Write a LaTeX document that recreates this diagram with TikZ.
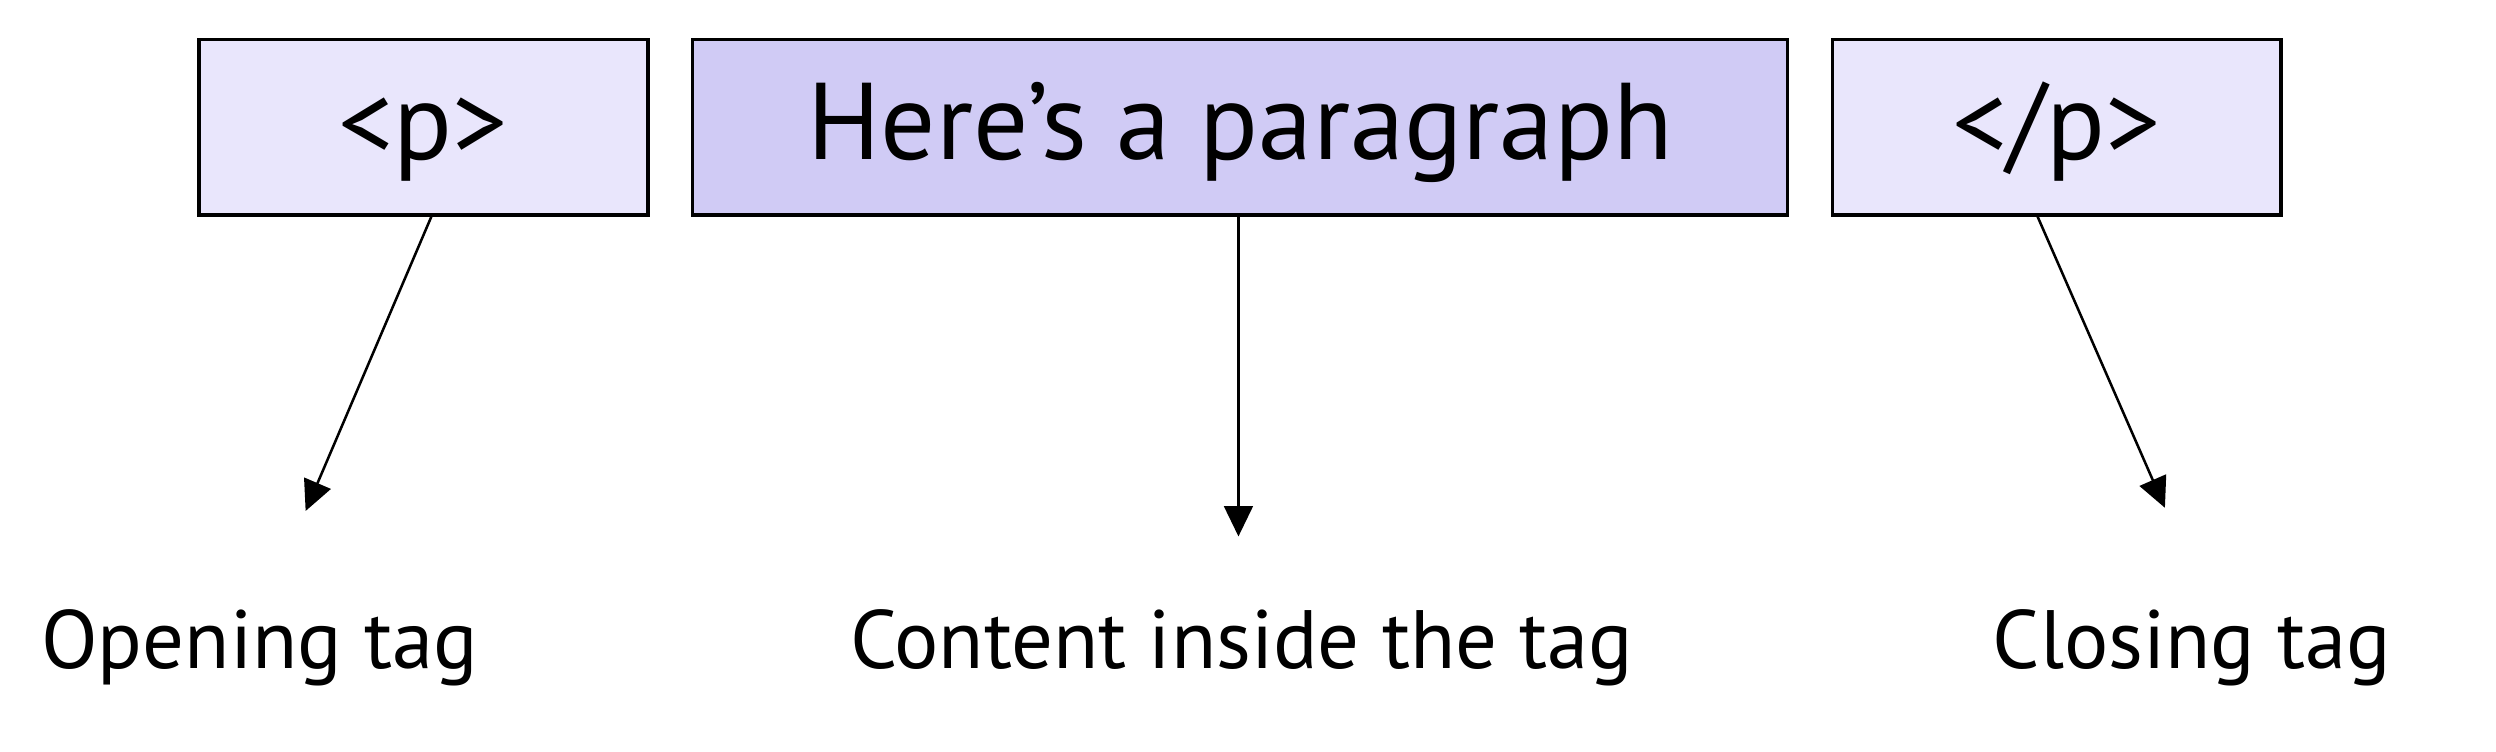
\documentclass[tikz,border=0pt]{standalone}
\usepackage{fontspec}
\setmainfont{PT Sans}
\usetikzlibrary{arrows.meta}
\definecolor{tagfill}{HTML}{E9E6FC}
\definecolor{contentfill}{HTML}{D0CBF5}
\tikzset{
  tagbox/.style={draw=black, line width=1.2pt, fill=tagfill, minimum width=5.64cm, minimum height=2.2cm,
    inner sep=0pt, font=\fontsize{39}{43}\selectfont, text height=0.96cm, text depth=0.16cm},
  contentbox/.style={tagbox, fill=contentfill, minimum width=13.76cm},
  label/.style={anchor=base, font=\fontsize{29.6}{34}\selectfont, inner sep=0pt},
  arr/.style={draw=black, line width=0.9pt, -{Triangle[length=0.38cm, width=0.36cm]}}
}
\begin{document}
\begin{tikzpicture}[x=0.02cm, y=-0.02cm]
\useasboundingbox (0,0) rectangle (1568,472);
\node[tagbox] (open) at (266,80) {<p>};
\node[contentbox] (content) at (779,80) {Here’s a paragraph};
\node[tagbox] (close) at (1292,80) {</p>};
\node[label] (lopen) at (163,420) {Opening tag};
\node[label] (lcontent) at (780,420) {Content inside the tag};
\node[label] (lclose) at (1377,420) {Closing tag};
\coordinate (e1) at (192,321);
\coordinate (e2) at (778,337);
\coordinate (e3) at (1360,319);
\draw[arr] ([xshift=0.1cm]open.south) -- (e1);
\draw[arr] ([xshift=-0.02cm]content.south) -- (e2);
\draw[arr] ([xshift=-0.24cm]close.south) -- (e3);
\end{tikzpicture}
\end{document}
